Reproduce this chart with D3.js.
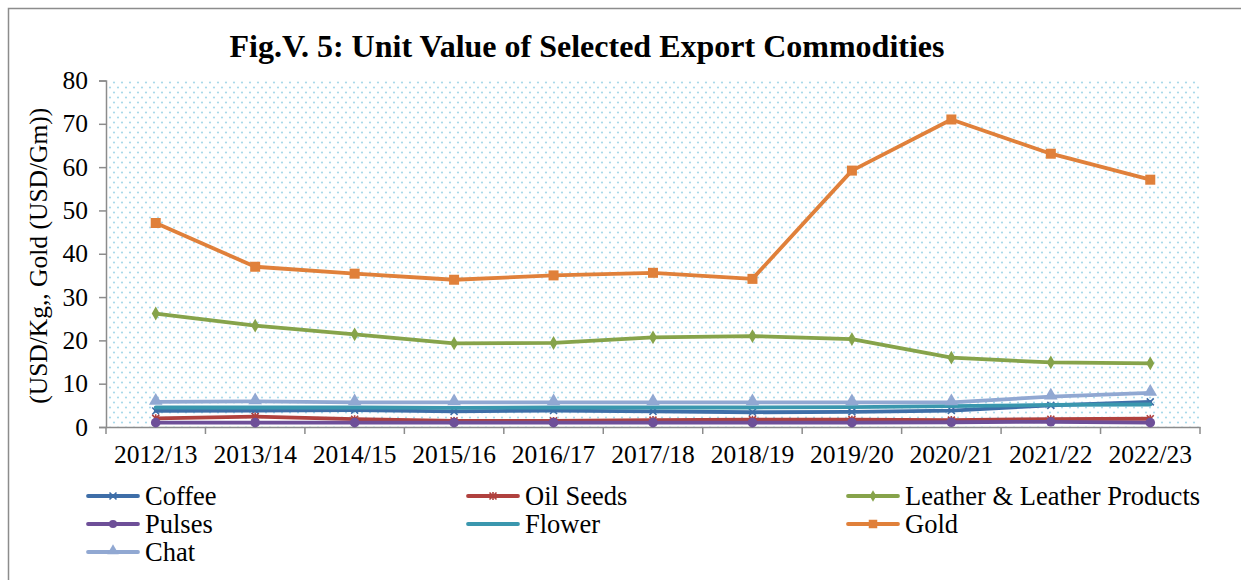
<!DOCTYPE html>
<html><head><meta charset="utf-8">
<script src="https://cdn.jsdelivr.net/npm/d3@7"></script>
<style>body{margin:0;background:#fff}svg{display:block}</style>
</head><body><svg id="c" width="1241" height="580"></svg>
<script>
const categories = ["2012/13","2013/14","2014/15","2015/16","2016/17","2017/18","2018/19","2019/20","2020/21","2021/22","2022/23"];
const coffee  = [3.7, 3.8, 3.9, 3.6, 3.8, 3.6, 3.4, 3.5, 3.8, 5.0, 5.8];
const oilSeeds= [2.0, 2.4, 1.8, 1.4, 1.4, 1.6, 1.7, 1.7, 1.6, 1.8, 1.9];
const leather = [26.2, 23.4, 21.4, 19.3, 19.4, 20.7, 21.0, 20.3, 16.0, 14.9, 14.7];
const pulses  = [1.0, 1.0, 1.0, 1.0, 1.0, 1.0, 1.0, 1.0, 1.1, 1.2, 1.0];
const flower  = [4.5, 4.5, 4.5, 4.4, 4.5, 4.5, 4.5, 4.6, 4.8, 5.1, 5.2];
const gold    = [47.1, 37.0, 35.4, 34.0, 35.0, 35.6, 34.2, 59.2, 71.0, 63.1, 57.1];
const chat    = [5.8, 5.9, 5.7, 5.7, 5.7, 5.7, 5.7, 5.7, 5.7, 7.0, 7.9];
const yTicks  = [0,10,20,30,40,50,60,70,80];
const title = "Fig.V. 5: Unit Value of Selected Export Commodities";
const yLabel = "(USD/Kg,, Gold (USD/Gm))";

const series = [
  {name:"Coffee", values:coffee, color:"#3e6ea8", marker:"x"},
  {name:"Oil Seeds", values:oilSeeds, color:"#b0413e", marker:"star"},
  {name:"Leather & Leather Products", values:leather, color:"#86a34a", marker:"diamond"},
  {name:"Pulses", values:pulses, color:"#6e4f98", marker:"circle"},
  {name:"Flower", values:flower, color:"#3a97ae", marker:"none"},
  {name:"Gold", values:gold, color:"#e0803a", marker:"square"},
  {name:"Chat", values:chat, color:"#91a8d2", marker:"triangle"}
];

const SERIF = "'Liberation Serif', 'Times New Roman', serif";
const FS = 25.5;
const svg = d3.select("#c");
const L=106, R=1200, T=80.5, B=427;
const x = d3.scaleBand().domain(categories).range([L,R]);
const y = d3.scaleLinear().domain([0,80]).range([B,T]);

// outer border
svg.append("rect").attr("x",8.5).attr("y",8.5).attr("width",1250).attr("height",600)
  .attr("fill","none").attr("stroke","#8c8c8c").attr("stroke-width",1.5);

// pattern
const defs = svg.append("defs");
const pat = defs.append("pattern").attr("id","dots").attr("patternUnits","userSpaceOnUse")
  .attr("width",8).attr("height",10);
pat.append("circle").attr("cx",2).attr("cy",2.5).attr("r",1.1).attr("fill","#a9d9ea");
pat.append("circle").attr("cx",6).attr("cy",7.5).attr("r",1.1).attr("fill","#a9d9ea");
svg.append("rect").attr("x",L+2).attr("y",T).attr("width",R-L-2).attr("height",B-T).attr("fill","url(#dots)");

// title
svg.append("text").attr("x",587).attr("y",57).attr("text-anchor","middle")
  .style("font-family",SERIF).attr("font-size",32).attr("font-weight","bold").attr("fill","#000").text(title);

// y axis
const yAxis = svg.append("g").attr("transform",`translate(${L},0)`)
  .call(d3.axisLeft(y).tickValues(yTicks).tickSize(7).tickPadding(11));
yAxis.select(".domain").attr("stroke","#8c8c8c").attr("stroke-width",1.5);
yAxis.selectAll(".tick line").attr("stroke","#8c8c8c").attr("stroke-width",1.5);
yAxis.selectAll("text").style("font-family",SERIF).attr("font-size",FS).attr("fill","#000");

// x axis
const xAxis = svg.append("g").attr("transform",`translate(0,${B})`)
  .call(d3.axisBottom(x).tickSize(0).tickPadding(18));
xAxis.select(".domain").attr("stroke","#8c8c8c").attr("stroke-width",1.5);
xAxis.selectAll("text").style("font-family",SERIF).attr("font-size",FS).attr("fill","#000");
const bounds = categories.map(c=>x(c)).concat([R]);
xAxis.selectAll(".bt").data(bounds).enter().append("line").attr("class","bt")
  .attr("x1",d=>d).attr("x2",d=>d).attr("y1",0).attr("y2",7)
  .attr("stroke","#8c8c8c").attr("stroke-width",1.5);

// y label
svg.append("text").attr("transform",`translate(47,${(T+B)/2+2}) rotate(-90)`)
  .style("font-family",SERIF).attr("text-anchor","middle").attr("font-size",FS).attr("fill","#000").text(yLabel);

function drawMarker(g, type, color, cx, cy, s){
  s = s||1;
  if(type==="square") g.append("rect").attr("x",cx-5*s).attr("y",cy-5*s).attr("width",10*s).attr("height",10*s).attr("fill",color);
  else if(type==="diamond") g.append("path").attr("d",d3.symbol(d3.symbolDiamond,55*s*s)()).attr("transform",`translate(${cx},${cy})`).attr("fill",color);
  else if(type==="circle") g.append("circle").attr("cx",cx).attr("cy",cy).attr("r",4.8*s).attr("fill",color);
  else if(type==="triangle") g.append("path").attr("d",d3.symbol(d3.symbolTriangle,80*s*s)()).attr("transform",`translate(${cx},${cy-1})`).attr("fill",color);
  else if(type==="x") g.append("path").attr("d",`M${cx-3.5},${cy-3.5}L${cx+3.5},${cy+3.5}M${cx-3.5},${cy+3.5}L${cx+3.5},${cy-3.5}`).attr("stroke",color).attr("stroke-width",1.6);
  else if(type==="star") g.append("path").attr("d",`M${cx-3.5},${cy-3.5}L${cx+3.5},${cy+3.5}M${cx-3.5},${cy+3.5}L${cx+3.5},${cy-3.5}M${cx},${cy-4}L${cx},${cy+4}`).attr("stroke",color).attr("stroke-width",1.6);
}

const line = d3.line().x((d,i)=>x(categories[i])+x.bandwidth()/2).y(d=>y(d));
series.forEach(s=>{
  const g = svg.append("g");
  g.append("path").datum(s.values).attr("d",line).attr("fill","none")
    .attr("stroke",s.color).attr("stroke-width",3.8).attr("stroke-linejoin","round").attr("stroke-linecap","round");
  s.values.forEach((v,i)=>drawMarker(g,s.marker,s.color,x(categories[i])+x.bandwidth()/2,y(v)));
});

// legend
const cols = [88, 468, 848];
const rows = [496, 524, 552];
series.forEach((s,i)=>{
  const cx = cols[i%3], cy = rows[Math.floor(i/3)];
  const g = svg.append("g");
  g.append("line").attr("x1",cx).attr("x2",cx+50).attr("y1",cy).attr("y2",cy)
    .attr("stroke",s.color).attr("stroke-width",3.8).attr("stroke-linecap","round");
  drawMarker(g,s.marker,s.color,cx+25,cy,0.85);
  g.append("text").attr("x",cx+57).attr("y",cy+9).style("font-family",SERIF)
    .attr("font-size",26.5).attr("fill","#000").text(s.name);
});
</script></body></html>
